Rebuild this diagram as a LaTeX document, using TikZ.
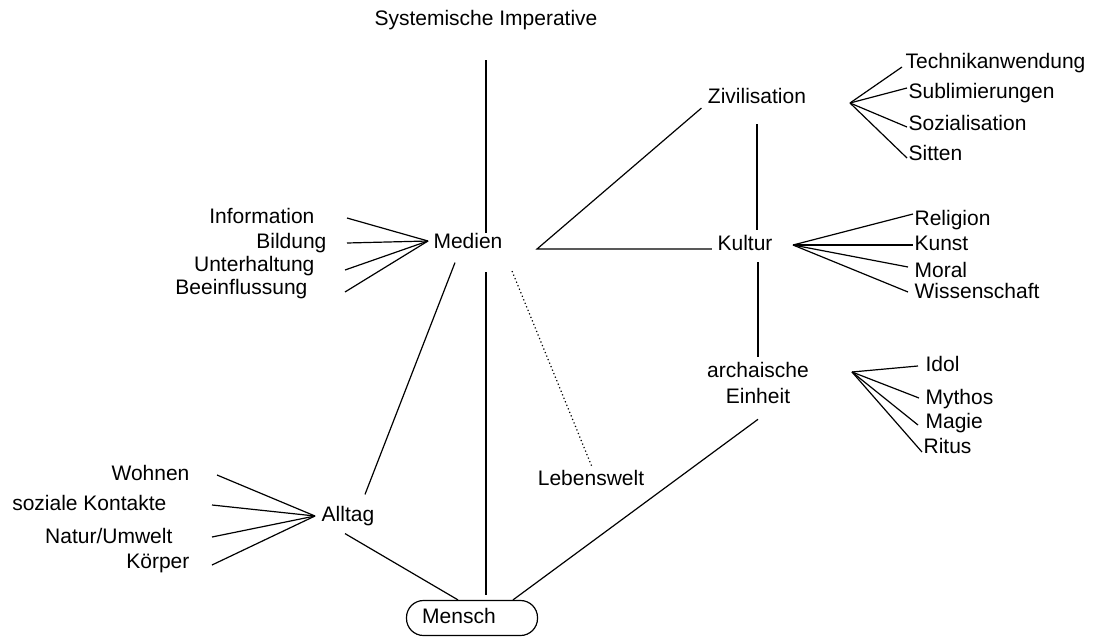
\documentclass[tikz,border=0pt]{standalone}
\usepackage{fontspec}
\setmainfont{Liberation Sans}
\usetikzlibrary{calc}

\begin{document}
\begin{tikzpicture}[x=1pt,y=-1pt,line width=1.2pt,
    txt/.style={inner sep=0pt,font=\fontsize{21}{26}\selectfont},
    lab/.style={txt,text height=15pt,text depth=4pt},
    oval/.style={lab,draw,rounded corners=17pt,minimum width=131pt,minimum height=35pt}]
  \useasboundingbox (0,0) rectangle (1093,637);
  \node[lab] (sys) at (486,20) {Systemische Imperative};
  \node[lab] (medien) at (468,243) {Medien};
  \node[lab] (ziv) at (757,98) {Zivilisation};
  \node[lab] (kultur) at (745,245) {Kultur};
  \node[txt,align=center] (arch) at (758,383) {archaische\\Einheit};
  \node[lab] (leben) at (591,480) {Lebenswelt};
  \node[lab] (alltag) at (348,516) {Alltag};
  \node[oval] (mensch) at (472,618) {\hspace*{-26pt}Mensch};
  \coordinate (knick) at (537,249);
  \coordinate (medfan) at (428,241);
  \coordinate (allfan) at (315,516);
  \coordinate (zivfan) at (850,103);
  \coordinate (kulfan) at (793,245);
  \coordinate (archfan) at (852,372);

  \draw[shorten <=30pt] (sys.south) -- (sys.south |- medien.north);
  \draw[shorten <=19pt,shorten >=5pt] (sys.south |- medien.south) -- (sys.south |- mensch.north);
  \draw[shorten >=5pt] ([xshift=-6pt]ziv.south west) -- (knick) -- (knick -| kultur.west);
  \draw[shorten <=16pt,shorten >=5pt] (ziv.south) -- (ziv.south |- kultur.north);
  \draw[shorten <=7pt,shorten >=5pt] (arch.north |- kultur.south) -- (arch.north);
  \draw ([xshift=17pt,yshift=11.5pt]alltag.north) -- ([xshift=-13pt,yshift=-9.5pt]medien.south);
  \draw ([xshift=-3pt,yshift=-7.5pt]alltag.south) -- ([xshift=-14pt]mensch.north);
  \draw ([yshift=-15pt]arch.south) -- ([xshift=41pt]mensch.north);
  \draw[line width=1.2pt,dash pattern=on 1.2pt off 2.6pt] ([xshift=9pt,yshift=-18pt]medien.south east) -- ([xshift=1pt,yshift=3pt]leben.north);

  \foreach \n/\t/\f/\x/\y/\dx/\dy in {info/Information/medfan/315/218/32/0, bild/Bildung/medfan/327/243/20/0,
      unt/Unterhaltung/medfan/315/266/30/-4, bee/Beeinflussung/medfan/308/289/37/-3,
      wohn/Wohnen/allfan/190/475/27/0, soz/soziale Kontakte/allfan/167/505/45/0,
      nat/{Natur/Umwelt}/allfan/173/538/39/1, koe/Körper/allfan/190/563/22/-2} {
    \node[lab,anchor=east] (\n) at (\x,\y) {\t};
    \draw (\f) -- ([xshift=\dx pt,yshift=\dy pt]\n.east);
  }
  \foreach \n/\t/\f/\x/\y/\dx/\dy in {tech/Technikanwendung/zivfan/905/63/-3/-4, subl/Sublimierungen/zivfan/908/93/-1/5,
      sozi/Sozialisation/zivfan/908/125/-1/-2, sitt/Sitten/zivfan/908/155/-1/-3,
      rel/Religion/kulfan/914/220/-1/6, kun/Kunst/kulfan/914/245/-1/0,
      mor/Moral/kulfan/914/272/-6/5, wiss/Wissenschaft/kulfan/914/293/-6/1,
      idol/Idol/archfan/925/366/-7/0, myth/Mythos/archfan/925/399/-6/1,
      mag/Magie/archfan/925/423/-7/-2, rit/Ritus/archfan/923/448/-1/-4} {
    \node[lab,anchor=west] (\n) at (\x,\y) {\t};
    \draw (\f) -- ([xshift=\dx pt,yshift=\dy pt]\n.west);
  }
\end{tikzpicture}
\end{document}
